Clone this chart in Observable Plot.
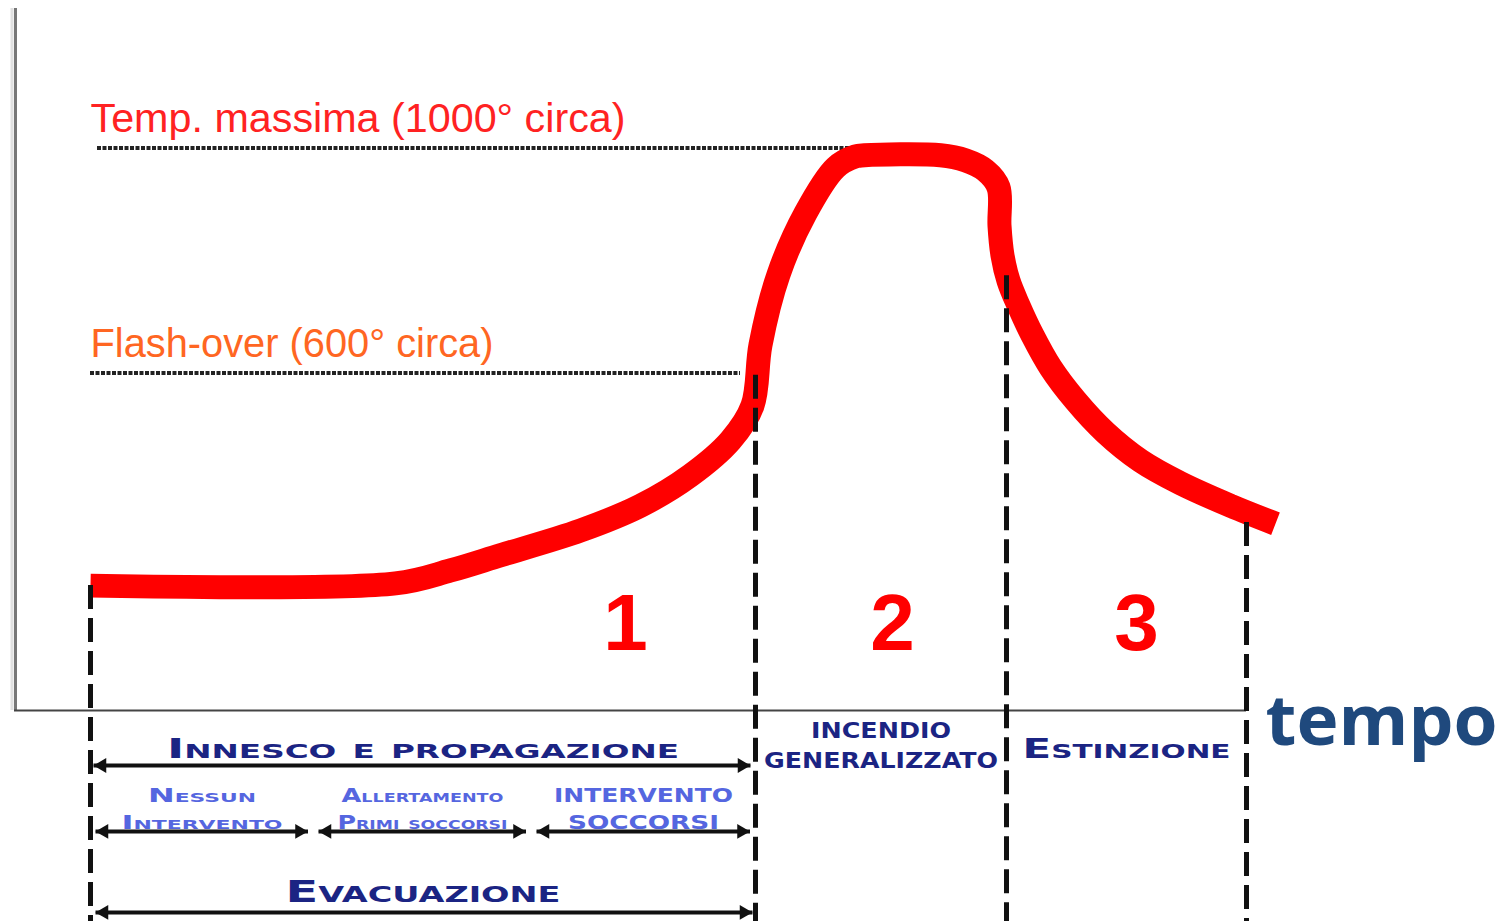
<!DOCTYPE html>
<html>
<head>
<meta charset="utf-8">
<script src="https://cdn.jsdelivr.net/npm/d3@7"></script>
<script src="https://cdn.jsdelivr.net/npm/@observablehq/plot@0.6"></script>
<style>
  html, body { margin: 0; padding: 0; background: #fff; overflow: hidden; }
  #chart svg { display: block; }
</style>
</head>
<body>
<div id="chart"></div>
<script>
// ---- data (time in arbitrary units, temperature in °C) ----
const curveTime = [7.6, 38.1, 43.6, 48.6, 56.6, 62.6, 67.6, 71.6, 73.8, 74.6, 76.4, 79.1, 82.1, 84.1, 85.0, 92.6, 95.1, 97.1, 98.4, 98.5, 98.8, 99.4, 100.4, 101.8, 103.6, 106.1, 109.1, 112.6, 116.6, 121.6, 126.1];
const curveTemp = [222, 226, 249, 276, 320, 364, 418, 480, 542, 650, 775, 884, 965, 985, 987, 987, 978, 960, 930, 862, 809, 764, 720, 667, 610, 551, 494, 444, 404, 364, 332];

const phaseBounds = [7.6, 74.1, 99.2, 123.2];       // start, flash-over, end of full fire, end
const phaseBoundTopTemp = [222, 596, 773, 334];     // where each dashed marker starts
const phaseNumbers = ["1", "2", "3"];
const phaseNumberTime = [61.1, 87.8, 112.2];
const phaseNames = [["Innesco e propagazione"], ["INCENDIO", "GENERALIZZATO"], ["Estinzione"]];

const subPhaseBounds = [7.6, 29.9, 51.7, 74.1];
const subPhaseNames = [["Nessun", "Intervento"], ["Allertamento", "Primi soccorsi"], ["INTERVENTO", "SOCCORSI"]];
const evacuationLabel = "Evacuazione";

const thresholdTemps = [1000, 600];
const thresholdLabels = ["Temp. massima (1000° circa)", "Flash-over (600° circa)"];
const thresholdStart = [8.3, 7.6];
const thresholdEnd = [83.6, 72.6];
const axisLabel = "tempo";

// ---- derived tables ----
const curve = curveTime.map((t, i) => ({t, T: curveTemp[i]}));
const mid = (a, b) => (a + b) / 2;
const navy = "#1b2483", light = "#5566e0";

// arrows: [x1, x2, y]
const arrows = [
  [phaseBounds[0] + 0.3, phaseBounds[1] - 0.5, -97.8],
  ...subPhaseNames.map((_, i) => [subPhaseBounds[i] + 0.5, subPhaseBounds[i + 1] - 0.55, -215]),
  [phaseBounds[0] + 0.5, phaseBounds[1] - 0.3, -359]
];
const heads = arrows.flatMap(([a, b, y]) => [
  {t: a + 0.85, y, r: -90},
  {t: b - 0.85, y, r: 90}
]);

const phaseLabelRows = [
  {text: phaseNames[0][0], t: mid(phaseBounds[0], phaseBounds[1]), y: -85.3, size: 27, fill: navy},
  {text: phaseNames[1][0], t: mid(phaseBounds[1], phaseBounds[2]), y: -48, size: 21, fill: navy},
  {text: phaseNames[1][1], t: mid(phaseBounds[1], phaseBounds[2]), y: -103.1, size: 21, fill: navy},
  {text: phaseNames[2][0], t: mid(phaseBounds[2], phaseBounds[3]), y: -85.3, size: 27, fill: navy},
  {text: evacuationLabel, t: mid(phaseBounds[0], phaseBounds[1]), y: -341.3, size: 30, fill: navy},
  ...subPhaseNames.flatMap((lines, i) => lines.map((s, j) => ({
    text: s, t: mid(subPhaseBounds[i], subPhaseBounds[i + 1]), y: j === 0 ? -161.8 : -209.8, size: 19, fill: light
  })))
];

const textWidths = {
  "Temp. massima (1000° circa)": 535, "Flash-over (600° circa)": 403,
  "Innesco e propagazione": 512, "Nessun": 108, "Intervento": 161,
  "Allertamento": 162, "Primi soccorsi": 170, "INTERVENTO": 179, "SOCCORSI": 151,
  "Evacuazione": 275, "INCENDIO": 140, "GENERALIZZATO": 234, "Estinzione": 208, "tempo": 232
};

const chart = Plot.plot({
  width: 1512, height: 921,
  marginLeft: 14, marginRight: 0, marginTop: 0, marginBottom: 0,
  x: {domain: [0, 149.8], axis: null},
  y: {domain: [-375.1, 1262.2], axis: null},
  style: {background: "white", overflow: "visible"},
  marks: [
    // axes
    Plot.ruleX([-0.25], {y1: 0, y2: 1248, stroke: "#e0e0e0", strokeWidth: 3}),
    Plot.ruleX([0.1], {y1: 0, y2: 1248, stroke: "#777", strokeWidth: 3}),
    Plot.ruleY([0], {x1: 0, x2: phaseBounds[3], stroke: "#444", strokeWidth: 2}),
    // threshold dotted lines + labels
    Plot.ruleY(thresholdTemps, {y: d => d, x1: thresholdStart, x2: thresholdEnd, stroke: "#222", strokeWidth: 4, strokeDasharray: "4,1.5"}),
    Plot.text(thresholdLabels, {x: thresholdStart.map((d, i) => i === 0 ? phaseBounds[0] : d), y: thresholdTemps, text: d => d, dy: -16,
      textAnchor: "start", lineAnchor: "bottom", fontFamily: "Liberation Sans", fontSize: 41,
      fill: (d, i) => i === 0 ? "#ff2222" : "#ff6622"}),
    // fire curve
    Plot.line(curve, {x: "t", y: "T", stroke: "#ff0000", strokeWidth: 24, curve: "catmull-rom", strokeLinecap: "butt", strokeLinejoin: "miter"}),
    // phase boundaries
    Plot.ruleX(phaseBounds, {x: d => d, y1: phaseBoundTopTemp, y2: -375.1, stroke: "#111", strokeWidth: 5, strokeDasharray: "24,9"}),
    // phase numbers
    Plot.text(phaseNumbers, {x: phaseNumberTime, y: 106.7, text: d => d, textAnchor: "middle", lineAnchor: "bottom",
      fontFamily: "Liberation Sans", fontWeight: "bold", fontSize: 80, fill: "#ff0000"}),
    // arrows
    Plot.link(arrows, {x1: d => d[0], x2: d => d[1], y1: d => d[2], y2: d => d[2], stroke: "#111", strokeWidth: 4}),
    Plot.dot(heads, {x: "t", y: "y", rotate: "r", symbol: "triangle", r: 5.5, fill: "#111", stroke: "none"}),
    // phase labels
    Plot.text(phaseLabelRows, {x: "t", y: "y", text: "text", fill: "fill", fontSize: "size", textAnchor: "middle", lineAnchor: "bottom",
      fontFamily: "DejaVu Sans", fontWeight: "bold", fontVariant: "small-caps"}),
    // x axis label
    Plot.text([axisLabel], {x: mid(phaseBounds[3], 149.8) + 0.2, y: -62.2, text: d => d, textAnchor: "middle", lineAnchor: "bottom",
      fontFamily: "Open Sans", fontWeight: "bold", fontSize: 70, fill: "#1f497d"})
  ]
});

chart.querySelectorAll("text").forEach(el => {
  const w = textWidths[el.textContent];
  if (w) { el.setAttribute("textLength", w); el.setAttribute("lengthAdjust", "spacingAndGlyphs"); }
});
document.getElementById("chart").appendChild(chart);
</script>
</body>
</html>
